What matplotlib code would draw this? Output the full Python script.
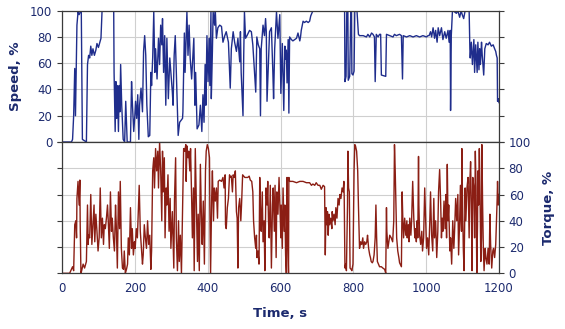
import numpy as np
import matplotlib
matplotlib.use("Agg")
import matplotlib.pyplot as plt

# Speed trace (time in s, speed in %) in four chunks
speed_t_a = [0, 26, 29, 32, 35, 37, 39, 41, 44, 47,
             50, 53, 56, 67, 70, 73, 76, 79, 82, 85,
             89, 93, 96, 100, 104, 107, 110, 142, 143, 146,
             148, 150, 152, 155, 157, 159, 161, 164, 168, 172,
             175, 179, 188, 191, 193, 197, 200, 202, 205, 208,
             211, 213, 217, 221, 224, 227, 230, 233, 237, 241,
             244, 246, 249, 252, 255, 257, 261, 265, 268, 271,
             274, 276, 279, 282, 285, 288, 292, 296]
speed_v_a = [0, 0, 2, 20, 56, 20, 56, 89, 99, 97,
             99, 99, 2, 0, 59, 66, 64, 73, 66, 71,
             66, 70, 75, 72, 76, 79, 100, 100, 53, 8,
             46, 18, 43, 8, 43, 23, 59, 28, 2, 0,
             31, 0, 0, 46, 31, 8, 20, 31, 18, 36,
             2, 28, 41, 23, 69, 81, 66, 28, 4, 5,
             53, 43, 64, 99, 53, 71, 48, 79, 59, 89,
             74, 94, 53, 81, 28, 79, 33, 64]

speed_t_b = [303, 305, 308, 311, 319, 323, 331, 332, 336, 338,
             343, 346, 349, 352, 356, 362, 365, 367, 371, 376,
             380, 384, 387, 390, 393, 395, 398, 401, 404, 406,
             409, 410, 413, 415, 419, 421, 424, 428, 433, 438,
             442, 447, 451, 457, 462, 465, 470, 474, 479, 483,
             488, 490, 492, 497, 499, 501, 504, 508, 515, 520,
             524, 532, 535, 539, 543, 545, 547, 552, 556, 559,
             561, 563, 566, 570, 575, 579, 581, 584, 589, 593, 598]
speed_v_b = [38, 28, 66, 81, 5, 15, 18, 23, 83, 53,
             99, 66, 89, 64, 48, 79, 28, 53, 10, 13,
             28, 8, 36, 15, 59, 28, 81, 46, 79, 43,
             99, 33, 69, 99, 89, 100, 79, 87, 89, 88,
             76, 81, 84, 76, 41, 71, 84, 76, 69, 79,
             61, 84, 53, 20, 66, 99, 79, 81, 85, 84,
             74, 38, 80, 74, 71, 20, 71, 89, 81, 94,
             84, 31, 53, 84, 87, 53, 33, 71, 99, 79, 97]

speed_t_c = [601, 605, 609, 612, 614, 616, 618, 621, 623, 625,
             630, 634, 639, 644, 648, 653, 655, 657, 662, 666,
             671, 676, 680, 683, 686, 689, 695, 776, 777, 780,
             782, 785, 786, 790, 793, 795, 796, 799, 802, 804,
             810, 814, 817, 827, 836, 840, 845, 850, 854, 858,
             860, 863, 868, 872, 875, 877, 889, 891, 900, 909,
             913, 918, 927, 932, 935, 937]
speed_v_c = [37, 75, 24, 73, 63, 70, 45, 78, 22, 80,
             78, 77, 78, 79, 83, 77, 80, 85, 92, 91,
             92, 91, 92, 96, 98, 100, 100, 100, 46, 50,
             100, 100, 47, 50, 100, 100, 52, 51, 54, 100,
             100, 82, 81, 81, 80, 82, 80, 83, 82, 80,
             46, 82, 80, 82, 82, 51, 50, 82, 81, 80,
             82, 81, 82, 81, 48, 81]

speed_t_d = [946, 955, 964, 973, 982, 991, 1001, 1005, 1008, 1012,
             1015, 1019, 1023, 1026, 1030, 1033, 1037, 1042, 1046, 1051,
             1055, 1060, 1063, 1066, 1067, 1069, 1072, 1074, 1083, 1087,
             1092, 1096, 1099, 1103, 1107, 1118, 1120, 1121, 1124, 1127,
             1129, 1131, 1133, 1136, 1140, 1142, 1145, 1147, 1149, 1152,
             1154, 1158, 1161, 1165, 1170, 1174, 1179, 1184, 1188, 1191,
             1193, 1195, 1196, 1198, 1200]
speed_v_d = [80, 81, 80, 81, 80, 81, 80, 81, 81, 84,
             80, 87, 79, 85, 76, 87, 81, 87, 78, 84,
             79, 85, 76, 85, 24, 81, 99, 100, 98, 100,
             95, 100, 97, 94, 100, 100, 71, 64, 76, 59,
             69, 78, 53, 74, 53, 76, 55, 71, 59, 76,
             66, 51, 71, 75, 74, 76, 73, 74, 71, 69,
             66, 64, 31, 33, 30]

# Torque trace (time in s, torque in %)
torque_t_a = [0, 21, 26, 29, 32, 35, 38, 40, 41, 44,
              47, 49, 50, 52, 54, 58, 62, 67, 70, 72,
              73, 76, 79, 82, 85, 88, 90, 93, 96, 99,
              102, 105, 108, 111, 114, 116, 119, 122, 125, 127,
              130, 133, 136, 138, 141, 144, 147, 149, 152, 155,
              158, 160, 163, 166, 169, 171, 174, 177, 180, 182,
              185, 188, 191, 193, 196, 199, 201, 204, 207, 210,
              212, 215, 218, 221, 223, 226, 229, 232, 235, 238,
              241, 244, 246, 249, 252, 254, 257, 260, 263, 265,
              268, 271, 274, 276, 278, 281, 283, 286, 288, 291,
              294, 297]
torque_v_a = [0, 0, 3, 5, 2, 37, 40, 27, 57, 70,
              52, 71, 37, 0, 2, 7, 4, 9, 52, 22,
              29, 27, 60, 22, 37, 52, 24, 45, 32, 17,
              27, 65, 27, 42, 22, 37, 34, 42, 52, 40,
              19, 62, 32, 42, 27, 17, 52, 37, 4, 62,
              34, 70, 19, 4, 3, 17, 0, 3, 7, 27,
              14, 50, 19, 34, 14, 24, 19, 34, 27, 52,
              67, 32, 19, 7, 14, 37, 27, 19, 40, 22,
              29, 3, 17, 78, 88, 65, 95, 78, 93, 65,
              100, 78, 40, 93, 62, 88, 27, 65, 52, 75,
              32, 57]

torque_t_b = [299, 303, 307, 309, 312, 314, 317, 320, 322, 325,
              328, 331, 334, 337, 340, 341, 343, 346, 348, 351,
              353, 356, 358, 361, 363, 366, 369, 372, 374, 377,
              380, 383, 385, 388, 391, 394, 396, 399, 402, 405,
              406, 408, 411, 413, 416, 418, 421, 424, 427, 429,
              433, 438, 442, 445, 448, 449, 451, 454, 457, 460,
              462, 465, 468, 470, 473, 476, 479, 481, 483, 485,
              488, 491, 493, 496, 499, 502, 506, 510, 514, 517,
              521, 523, 524, 526, 529, 532, 534, 535, 538, 541,
              543, 545, 547, 550, 552, 555, 557, 560, 563, 565,
              567, 569, 572, 575, 578, 580, 583, 585, 588, 590,
              593, 596]
torque_v_b = [19, 47, 4, 57, 88, 27, 2, 40, 9, 29,
              0, 47, 95, 93, 98, 70, 97, 88, 93, 78,
              95, 57, 27, 65, 2, 95, 52, 9, 45, 2,
              83, 40, 22, 55, 7, 78, 93, 98, 95, 88,
              52, 0, 57, 78, 40, 65, 55, 65, 42, 70,
              71, 70, 73, 65, 75, 37, 34, 50, 57, 75,
              73, 74, 62, 75, 73, 78, 47, 42, 4, 50,
              57, 40, 52, 75, 74, 73, 73, 73, 74, 71,
              70, 65, 62, 40, 27, 19, 29, 12, 17, 7,
              73, 47, 32, 62, 24, 40, 2, 65, 52, 70,
              40, 27, 67, 4, 52, 65, 32, 67, 12, 62,
              45, 73]

torque_t_c = [601, 602, 605, 607, 610, 612, 614, 616, 618, 620,
              622, 623, 625, 630, 634, 644, 653, 662, 671, 680,
              685, 689, 694, 698, 703, 708, 712, 717, 721, 723,
              725, 727, 729, 731, 733, 735, 738, 741, 742, 744,
              747, 750, 752, 755, 758, 761, 763, 766, 769, 772,
              774, 775, 777, 779, 781, 784, 785, 787, 789, 791,
              794, 796, 799, 802, 804, 806, 809, 812, 814, 816,
              817, 820, 823, 826, 828, 831, 834, 837, 839, 842,
              845, 847, 849, 852, 854, 857, 860, 862, 864, 866,
              869, 872, 877, 881, 886, 889, 891, 892, 895, 900,
              904]
torque_v_c = [27, 52, 19, 65, 32, 52, 14, 0, 73, 27,
              0, 73, 70, 70, 70, 69, 70, 70, 69, 69,
              67, 68, 67, 69, 67, 67, 64, 67, 66, 14,
              50, 37, 47, 29, 45, 37, 42, 34, 47, 40,
              45, 37, 50, 42, 57, 52, 60, 57, 65, 62,
              70, 57, 4, 7, 2, 52, 93, 65, 62, 4,
              3, 2, 7, 78, 98, 97, 93, 78, 52, 32,
              19, 24, 22, 27, 19, 24, 22, 24, 29, 19,
              14, 12, 9, 8, 9, 14, 27, 52, 27, 9,
              7, 5, 5, 4, 3, 0, 50, 32, 19, 29,
              27]

torque_t_d = [908, 911, 913, 915, 917, 919, 922, 925, 927, 932,
              934, 936, 938, 941, 944, 947, 948, 951, 953, 955,
              958, 960, 963, 966, 969, 971, 973, 975, 977, 979,
              980, 982, 985, 988, 990, 993, 996, 999, 1001, 1004,
              1007, 1010, 1012, 1015, 1018, 1021, 1023, 1026, 1029, 1032,
              1034, 1037, 1040, 1042, 1044, 1046, 1049, 1052, 1054, 1056,
              1058, 1060, 1062, 1065, 1067, 1070, 1073, 1076, 1078, 1081,
              1084, 1087, 1089, 1092, 1094, 1097, 1098, 1100, 1102, 1104,
              1107, 1109, 1112, 1115, 1118, 1120, 1122, 1124, 1126, 1128,
              1131, 1133, 1135, 1137, 1139, 1141, 1142, 1144, 1146, 1148,
              1150, 1152, 1153, 1155, 1157, 1159, 1162, 1164, 1167, 1170,
              1173, 1175, 1177, 1180, 1183, 1185, 1188, 1191, 1193, 1195,
              1196, 1198, 1200]
torque_v_d = [24, 40, 98, 78, 52, 27, 17, 12, 8, 5,
              62, 40, 27, 42, 29, 40, 27, 37, 24, 42,
              29, 40, 70, 42, 27, 34, 24, 40, 27, 89,
              52, 29, 22, 32, 17, 27, 65, 37, 19, 27,
              14, 40, 62, 29, 17, 57, 27, 40, 12, 32,
              62, 79, 52, 27, 42, 32, 55, 34, 60, 27,
              83, 40, 52, 17, 27, 7, 40, 19, 32, 57,
              40, 60, 14, 40, 67, 32, 95, 52, 19, 2,
              65, 40, 65, 73, 27, 70, 85, 52, 2, 73,
              65, 27, 93, 65, 0, 37, 78, 52, 95, 60,
              9, 27, 98, 52, 19, 2, 19, 12, 7, 19,
              7, 45, 22, 4, 17, 19, 12, 22, 40, 57,
              70, 52, 60]

y_ticks = [0, 20, 40, 60, 80, 100]
x_ticks = [0, 200, 400, 600, 800, 1000, 1200]

speed_t = speed_t_a + speed_t_b + speed_t_c + speed_t_d
speed_v = speed_v_a + speed_v_b + speed_v_c + speed_v_d
torque_t = torque_t_a + torque_t_b + torque_t_c + torque_t_d
torque_v = torque_v_a + torque_v_b + torque_v_c + torque_v_d

navy = '#1c2a6e'
speed_col = '#1f2d8c'
torque_col = '#8b1e14'
grid_col = '#cfcfcf'
spine_col = '#3a3a3a'

plt.rcParams['font.family'] = 'DejaVu Sans'

fig = plt.figure(figsize=(5.65, 3.29), dpi=100)
left, width = 62 / 565, 437 / 565
h = 131.3 / 329
ax1 = fig.add_axes([left, 1 - 142 / 329, width, h])
ax2 = fig.add_axes([left, 1 - 273.3 / 329, width, h], sharex=ax1)

ax1.plot(speed_t, speed_v, color=speed_col, lw=1.0)
ax2.plot(torque_t, torque_v, color=torque_col, lw=1.0)

for ax in (ax1, ax2):
    ax.set_xlim(0, 1200)
    ax.set_ylim(0, 100)
    ax.set_yticks(y_ticks)
    ax.set_xticks(x_ticks)
    ax.grid(True, color=grid_col, lw=0.8)
    ax.set_axisbelow(True)
    for s in ax.spines.values():
        s.set_color(spine_col)
        s.set_linewidth(0.9)
    ax.tick_params(colors=spine_col, labelcolor=navy, labelsize=8.5,
                   length=3.5, width=0.8)

# top panel: speed labels on the left, bare ticks on the right
ax1.tick_params(axis='y', left=True, labelleft=True, right=True, labelright=False)
ax1.tick_params(axis='x', bottom=False, labelbottom=False)
ax1.set_ylabel('Speed, %', fontsize=9.5, fontweight='bold', color=navy, labelpad=6)

# bottom panel: torque labels on the right, bare ticks on the left
ax2.tick_params(axis='y', left=True, labelleft=False, right=True, labelright=True)
ax2.tick_params(axis='x', length=0, pad=6)
ax2.yaxis.set_label_position('right')
ax2.set_ylabel('Torque, %', fontsize=9.5, fontweight='bold', color=navy, labelpad=8)
ax2.set_xlabel('Time, s', fontsize=9.5, fontweight='bold', color=navy, labelpad=9)

fig.savefig('out.png', dpi=100)
